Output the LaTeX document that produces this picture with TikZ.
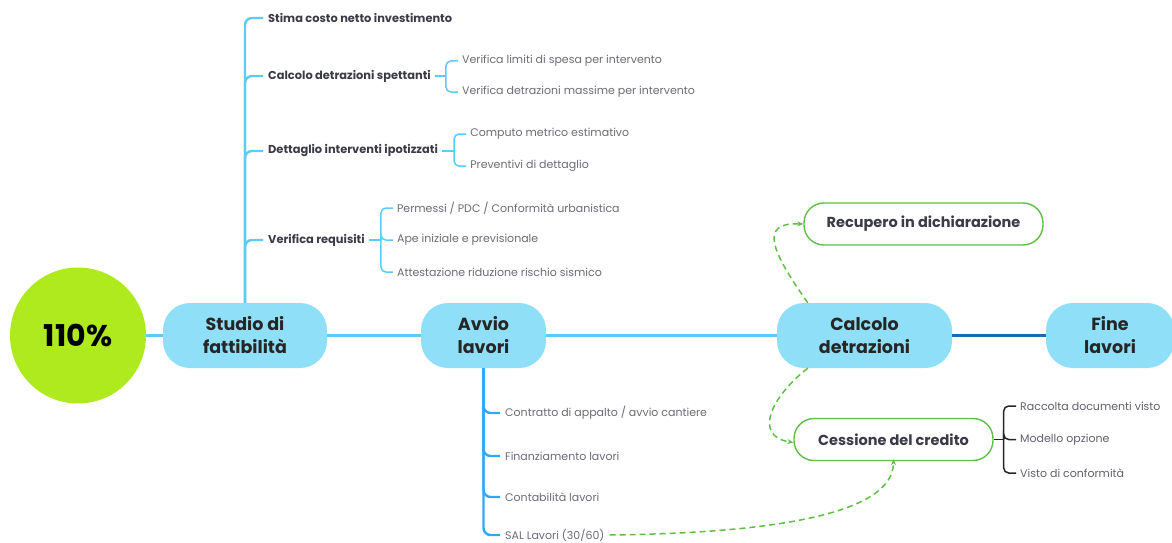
\documentclass[tikz,border=0pt]{standalone}
\usepackage{fontspec}
\setmainfont{Poppins}
\usetikzlibrary{positioning,arrows.meta}
\definecolor{lime}{HTML}{AEEA1E}
\definecolor{nodeblue}{HTML}{8FDFF9}
\definecolor{lineblue}{HTML}{5CCBF5}
\definecolor{workblue}{HTML}{30A8F8}
\definecolor{deepblue}{HTML}{1F69AE}
\definecolor{okgreen}{HTML}{5FBF45}
\definecolor{textdark}{HTML}{3B3B48}
\definecolor{textgray}{HTML}{6B6B75}
\begin{document}
\begin{tikzpicture}[
            x=1pt, y=-1pt,
            phase/.style={fill=nodeblue, rounded corners=27pt, minimum height=65pt, align=center,
                font=\bfseries\fontsize{17.5}{23}\selectfont, text=black!85},
            goal/.style={draw=okgreen, line width=1.4pt, fill=white, rounded corners=20pt, minimum height=42pt,
                font=\bfseries\fontsize{14.5}{17}\selectfont, text=textdark},
            topic/.style={anchor=west, inner sep=0pt, font=\bfseries\fontsize{11.4}{13}\selectfont, text=textdark},
            leaf/.style={anchor=west, inner sep=0pt, font=\fontsize{11}{13}\selectfont, text=textgray},
            trunk/.style={draw=lineblue, line width=2.4pt, rounded corners=7pt},
            twig/.style={draw=lineblue, line width=1.5pt, rounded corners=5pt},
            hop/.style={draw=okgreen, line width=1.5pt, dash pattern=on 6pt off 4pt, -{Stealth[length=6pt,width=5pt]}},
        ]
            \useasboundingbox (0, 0) rectangle (1172, 543);
            \node[circle, fill=lime, minimum size=136pt, font=\bfseries\fontsize{30}{34}\selectfont] (core) at (78, 335.5) {110\%};
            \node[phase, minimum width=164pt] (studio) at (245, 335.5) {Studio di\\fattibilità};
            \node[phase, minimum width=125pt] (avvio) at (483.5, 335.5) {Avvio\\lavori};
            \node[phase, minimum width=175pt] (calc) at (864.5, 335.5) {Calcolo\\detrazioni};
            \node[phase, minimum width=128pt] (fine) at (1110, 335.5) {Fine\\lavori};
            \draw[trunk] (core) -- (studio);
            \draw[trunk] (studio) -- (avvio);
            \draw[trunk] (avvio) -- (calc);
            \draw[trunk, draw=deepblue] (calc) -- (fine);

            \node[topic] (stima) at (268, 18) {Stima costo netto investimento};
            \node[topic] (spett) at (268, 76) {Calcolo detrazioni spettanti};
            \node[topic] (dett) at (268, 151) {Dettaglio interventi ipotizzati};
            \node[topic] (req) at (268, 240) {Verifica requisiti};
            \foreach \t in {stima, spett, dett, req}
                \draw[trunk] (studio.north) |- ([xshift=-5pt]\t.west);

            \node[leaf] (limiti) at ([xshift=31pt, yshift=15pt]spett.east) {Verifica limiti di spesa per intervento};
            \node[leaf] (massime) at ([xshift=31pt, yshift=-16pt]spett.east) {Verifica detrazioni massime per intervento};
            \coordinate (fspett) at ([xshift=15pt]spett.east);
            \draw[twig] ([xshift=4pt]spett.east) -- (fspett);
            \foreach \t in {limiti, massime}
                \draw[twig] (fspett) |- ([xshift=-4pt]\t.west);

            \node[leaf] (computo) at ([xshift=32pt, yshift=17pt]dett.east) {Computo metrico estimativo};
            \node[leaf] (preventivi) at ([xshift=32pt, yshift=-15pt]dett.east) {Preventivi di dettaglio};
            \coordinate (fdett) at ([xshift=16pt]dett.east);
            \draw[twig] ([xshift=4pt]dett.east) -- (fdett);
            \foreach \t in {computo, preventivi}
                \draw[twig] (fdett) |- ([xshift=-4pt]\t.west);

            \node[leaf] (permessi) at ([xshift=32pt, yshift=32pt]req.east) {Permessi / PDC / Conformità urbanistica};
            \node[leaf] (ape) at ([xshift=32pt]req.east) {Ape iniziale e previsionale};
            \node[leaf] (sismico) at ([xshift=32pt, yshift=-32pt]req.east) {Attestazione riduzione rischio sismico};
            \coordinate (freq) at ([xshift=16pt]req.east);
            \draw[twig] ([xshift=4pt]req.east) -- (freq);
            \foreach \t in {permessi, ape, sismico}
                \draw[twig] (freq) |- ([xshift=-4pt]\t.west);

            \node[leaf] (contratto) at (505, 413) {Contratto di appalto / avvio cantiere};
            \node[leaf] (finanz) at (505, 456) {Finanziamento lavori};
            \node[leaf] (contab) at (505, 497) {Contabilità lavori};
            \node[leaf] (sal) at (505, 535) {SAL Lavori (30/60)};
            \foreach \t in {contratto, finanz, contab, sal}
                \draw[trunk, draw=workblue] (avvio.south) |- ([xshift=-5pt]\t.west);

            \node[goal, minimum width=239pt] (recupero) at (923.5, 224) {Recupero in dichiarazione};
            \node[goal, minimum width=199pt] (cessione) at (893.5, 439.5) {Cessione del credito};
            \node[leaf, text=textgray!90!black] (raccolta) at (1020, 406) {Raccolta documenti visto};
            \node[leaf, text=textgray!90!black] (modello) at (1020, 439.5) {Modello opzione};
            \node[leaf, text=textgray!90!black] (visto) at (1020, 473) {Visto di conformità};
            \coordinate (fcess) at ([xshift=10pt]cessione.east);
            \draw[twig, draw=black!85] (cessione.east) -- (fcess);
            \foreach \t in {raccolta, modello, visto}
                \draw[twig, draw=black!85] (fcess) |- ([xshift=-4pt]\t.west);

            \draw[hop] ([xshift=31pt]calc.north west) .. controls (772, 252) and (758, 222) .. (recupero.west);
            \draw[hop] ([xshift=31pt]calc.south west) .. controls (772, 396) and (752, 436) .. ([yshift=-3pt]cessione.west);
            \draw[hop] ([xshift=5pt]sal.east) .. controls (770, 533) and (893, 515) .. ([yshift=2pt]cessione.south);
        \end{tikzpicture}
\end{document}
